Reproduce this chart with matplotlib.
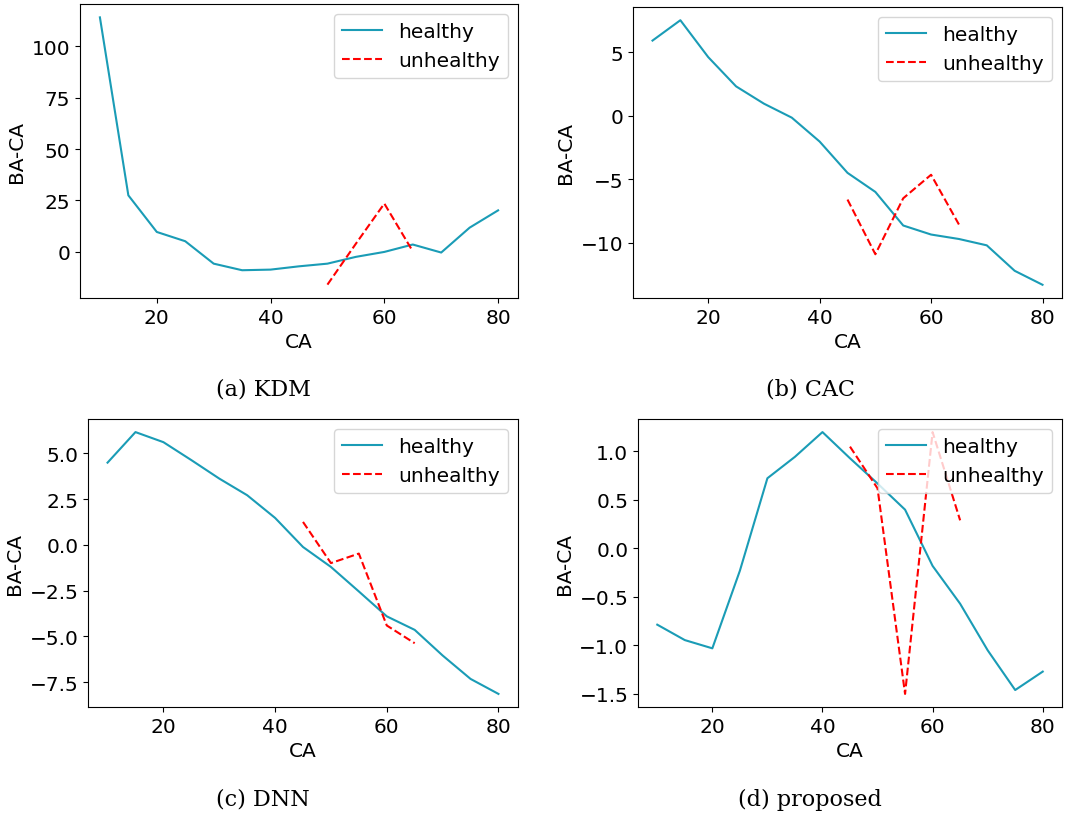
import numpy as np
from matplotlib import pyplot as plt

plt.rcParams["font.size"] = 14.5

# ages
ca_healthy = [10, 15, 20, 25, 30, 35, 40, 45, 50, 55, 60, 65, 70, 75, 80]
ca_unhealthy = [45, 50, 55, 60, 65]
ca_unhealthy_kdm = [50, 55, 60, 65]

# BA-CA per method
kdm_healthy = [114, 27.5, 9.7, 5.2, -5.7, -8.9, -8.6, -7.0, -5.7, -2.4, 0.0, 3.6, -0.3, 11.8, 20.2]
kdm_unhealthy = [-15.9, 4.0, 23.5, 0.3]

cac_healthy = [5.9, 7.5, 4.6, 2.3, 0.94, -0.16, -2.04, -4.5, -6.0, -8.64, -9.35, -9.7, -10.2, -12.2, -13.3]
cac_unhealthy = [-6.6, -10.9, -6.5, -4.65, -8.56]

dnn_healthy = [4.5, 6.17, 5.62, 4.64, 3.63, 2.72, 1.48, -0.11, -1.2, -2.54, -3.9, -4.64, -6.04, -7.32, -8.14]
dnn_unhealthy = [1.26, -0.99, -0.47, -4.4, -5.37]

prop_healthy = [-0.786, -0.945, -1.03, -0.23, 0.724, 0.945, 1.2, 0.93, 0.67, 0.4, -0.18, -0.57, -1.05, -1.46, -1.27]
prop_unhealthy = [1.05, 0.62, -1.5, 1.2, 0.29]

captions = ["(a) KDM", "(b) CAC", "(c) DNN", "(d) proposed"]
kdm_yticks = [0, 25, 50, 75, 100]

panels = [
    (kdm_healthy, ca_unhealthy_kdm, kdm_unhealthy),
    (cac_healthy, ca_unhealthy, cac_unhealthy),
    (dnn_healthy, ca_unhealthy, dnn_unhealthy),
    (prop_healthy, ca_unhealthy, prop_unhealthy),
]

# axes boxes in pixels: left, top, right, bottom
W, H = 1086, 820
boxes = [(80, 5, 518, 299), (633, 8, 1062, 299), (88, 420, 518, 708), (638, 420, 1062, 708)]
cap_pos = [(263, 390), (810, 390), (263, 800), (810, 800)]

fig = plt.figure(figsize=(W / 100, H / 100), dpi=100)

for i, (hv, ux, uv) in enumerate(panels):
    l, t, r, b = boxes[i]
    ax = fig.add_axes([l / W, 1 - b / H, (r - l) / W, (b - t) / H])
    ax.plot(ca_healthy, hv, color="#1a9cb6", lw=1.5, label="healthy")
    ax.plot(ux, uv, color="red", ls="--", lw=1.5, label="unhealthy")
    ax.set_xlabel("CA")
    ax.set_ylabel("BA-CA")
    ax.set_xticks([20, 40, 60, 80])
    if i == 0:
        ax.set_yticks(kdm_yticks)
    ax.legend(loc="upper right")
    cx, cy = cap_pos[i]
    fig.text(cx / W, 1 - cy / H, captions[i], ha="center", va="center",
             family="DejaVu Serif", fontsize=16)

fig.savefig("out.png", dpi=100)
